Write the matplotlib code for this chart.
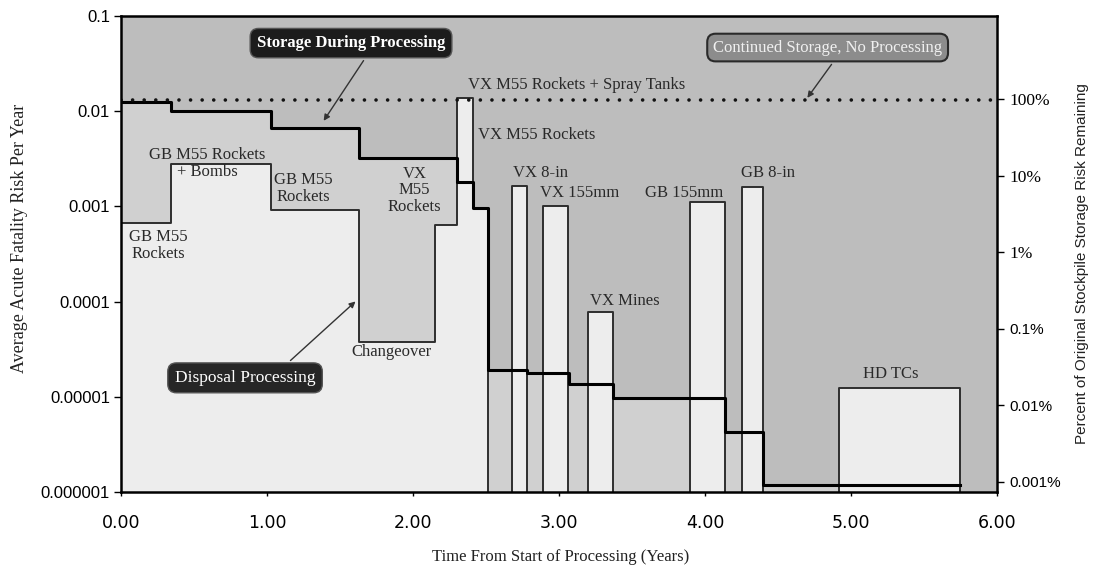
import numpy as np
import matplotlib.pyplot as plt
from matplotlib.ticker import FixedLocator, NullLocator

SERIF = 'Liberation Serif'
SANS = 'Liberation Sans'

# Storage risk during processing (step edges in years, risk per year)
storage_t = [0.0, 0.34, 1.03, 1.63, 2.30, 2.41, 2.51, 2.78, 3.07, 3.37, 4.14, 4.40, 5.75]
storage_risk = [0.0126, 0.0100, 0.0067, 0.0032, 0.0018, 0.00096,
                1.9e-5, 1.78e-5, 1.36e-5, 9.8e-6, 4.3e-6, 1.17e-6]

# Disposal processing campaigns
camp_start = [0.0, 0.34, 1.03, 1.63, 2.15, 2.30, 2.41, 2.68, 2.89, 3.20, 3.90, 4.25, 4.92]
camp_end = [0.34, 1.03, 1.63, 2.15, 2.30, 2.41, 2.51, 2.78, 3.06, 3.37, 4.14, 4.40, 5.75]
camp_risk = [6.7e-4, 2.8e-3, 9.1e-4, 3.8e-5, 6.4e-4, 1.38e-2, 9.6e-4,
             1.64e-3, 1.0e-3, 7.7e-5, 1.1e-3, 1.6e-3, 1.23e-5]

# Continued storage, no processing
no_processing_risk = 0.0131

left_ticks = [0.1, 0.01, 0.001, 0.0001, 0.00001, 0.000001]
left_labels = ['0.1', '0.01', '0.001', '0.0001', '0.00001', '0.000001']
right_ticks = [100, 10, 1, 0.1, 0.01, 0.001]
right_labels = ['100%', '10%', '1%', '0.1%', '0.01%', '0.001%']
x_ticks = [0, 1, 2, 3, 4, 5, 6]

floor = 1e-7

fig = plt.figure(figsize=(11.01, 5.74), dpi=100)
ax = fig.add_axes([0.110, 0.143, 0.7955, 0.829])
ax.set_yscale('log')
ax.set_xlim(0, 6)
ax.set_ylim(1e-6, 0.1)
ax.set_facecolor('#bdbdbd')

# storage step
st_x = storage_t
st_y = storage_risk + [storage_risk[-1]]
ax.fill_between(st_x, st_y, floor, step='post', color='#d0d0d0', lw=0, zorder=1)

# processing step, with drops to floor between non-contiguous campaigns
px, py = [], []
prev_end = None
for s, e, r in zip(camp_start, camp_end, camp_risk):
    if prev_end is not None and s > prev_end + 1e-9:
        px.append(prev_end)
        py.append(floor)
    px.append(s)
    py.append(r)
    prev_end = e
px.append(prev_end)
py.append(floor)
ax.fill_between(px, py, floor, step='post', color='#ededed', lw=0, zorder=2)
ax.step(px, py, where='post', color='#2e2e2e', lw=1.4, zorder=3)

ax.step(st_x, st_y, where='post', color='black', lw=2.2, zorder=4)

ax.plot([0, 6], [no_processing_risk, no_processing_risk], color='#111111', lw=2.6,
        linestyle=(0, (0.01, 3.2)), dash_capstyle='round', zorder=5)

# campaign labels
lab = dict(family=SERIF, fontsize=12, color='#2a2a2a', ha='center', va='center', zorder=6)
ax.text(0.59, 2.85e-3, 'GB M55 Rockets\n+ Bombs', linespacing=1.1, **lab)
ax.text(0.255, 3.9e-4, 'GB M55\nRockets', linespacing=1.1, **lab)
ax.text(1.25, 1.55e-3, 'GB M55\nRockets', linespacing=1.1, **lab)
ax.text(2.01, 1.48e-3, 'VX\nM55\nRockets', linespacing=1.05, **lab)
ax.text(3.12, 0.0188, 'VX M55 Rockets + Spray Tanks', **lab)
ax.text(2.85, 5.6e-3, 'VX M55 Rockets', **lab)
ax.text(2.87, 2.24e-3, 'VX 8-in', **lab)
ax.text(3.14, 1.38e-3, 'VX 155mm', **lab)
ax.text(3.86, 1.38e-3, 'GB 155mm', **lab)
ax.text(4.43, 2.24e-3, 'GB 8-in', **lab)
ax.text(3.45, 1.02e-4, 'VX Mines', **lab)
ax.text(1.855, 2.95e-5, 'Changeover', **lab)
ax.text(5.27, 1.74e-5, 'HD TCs', **lab)

# callouts
arrow = dict(arrowstyle='-|>', color='#333333', lw=1.0, mutation_scale=9)
ax.annotate('Storage During Processing', xy=(1.377, 0.0075), xytext=(1.575, 0.052),
            family=SERIF, fontsize=12, fontweight='bold', color='white', ha='center', va='center',
            bbox=dict(boxstyle='round,pad=0.4,rounding_size=0.5', fc='#1c1c1c', ec='#555555'),
            arrowprops=dict(relpos=(0.6, 0.0), **arrow), zorder=7)
ax.annotate('Continued Storage, No Processing', xy=(4.69, no_processing_risk), xytext=(4.84, 0.0467),
            family=SERIF, fontsize=12, color='#f0f0f0', ha='center', va='center',
            bbox=dict(boxstyle='round,pad=0.35,rounding_size=0.5', fc='#8c8c8c', ec='#2a2a2a', lw=1.5),
            arrowprops=dict(relpos=(0.545, 0.0), **arrow), zorder=7)
ax.annotate('Disposal Processing', xy=(1.62, 1.05e-4), xytext=(0.849, 1.58e-5),
            family=SERIF, fontsize=12.5, color='white', ha='center', va='center',
            bbox=dict(boxstyle='round,pad=0.4,rounding_size=0.5', fc='#262626', ec='#555555'),
            arrowprops=dict(relpos=(0.75, 1.0), **arrow), zorder=7)

# axes styling
for sp in ax.spines.values():
    sp.set_linewidth(1.8)
    sp.set_zorder(8)
ax.yaxis.set_major_locator(FixedLocator(left_ticks))
ax.set_yticklabels(left_labels, family=SANS, fontsize=12)
ax.yaxis.set_minor_locator(NullLocator())
ax.set_xticks(x_ticks)
ax.set_xticklabels(['%.2f' % v for v in x_ticks], family='DejaVu Sans', fontsize=12.5)
ax.tick_params(axis='y', direction='out', length=5, width=1, pad=3)
ax.tick_params(axis='x', direction='out', length=3, width=1, pad=13)

ax2 = ax.twinx()
ax2.set_yscale('log')
ax2.set_ylim(10 ** -3.13, 10 ** 3.084)
ax2.yaxis.set_major_locator(FixedLocator(right_ticks))
ax2.yaxis.set_minor_locator(NullLocator())
ax2.set_yticklabels(right_labels, fontsize=12)
for i, t in enumerate(ax2.get_yticklabels()):
    if i < 3:
        t.set_family(SERIF)
        t.set_fontsize(12.5)
    else:
        t.set_family(SANS)
        t.set_fontsize(11)
ax2.tick_params(axis='y', direction='out', length=5, width=1, pad=4)
for sp in ax2.spines.values():
    sp.set_visible(False)

fig.text(0.018, 0.584, 'Average Acute Fatality Risk Per Year', rotation=90,
         family=SERIF, fontsize=13, ha='center', va='center', color='#222222')
fig.text(0.983, 0.54, 'Percent of Original Stockpile Storage Risk Remaining', rotation=90,
         family=SANS, fontsize=11, ha='center', va='center', color='#222222')
fig.text(0.509, 0.030, 'Time From Start of Processing (Years)',
         family=SERIF, fontsize=12, ha='center', va='center', color='#222222')

fig.savefig('out.png', dpi=100, facecolor='white')
